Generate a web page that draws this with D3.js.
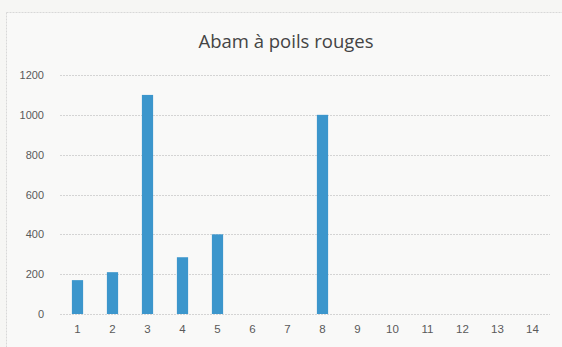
<!DOCTYPE html>
<html>
<head>
<meta charset="utf-8">
<script src="https://cdn.jsdelivr.net/npm/d3@7"></script>
<style>
  html, body { margin: 0; padding: 0; background: #f6f6f4; }
  svg { display: block; }
</style>
</head>
<body>
<svg id="chart" width="562" height="347"></svg>
<script>
const title = "Abam à poils rouges";
const categories = ["1","2","3","4","5","6","7","8","9","10","11","12","13","14"];
const values = [170, 210, 1100, 285, 400, 0, 0, 1000, 0, 0, 0, 0, 0, 0];
const yTicks = [0, 200, 400, 600, 800, 1000, 1200];

const W = 562, H = 347;
const margin = { top: 75, right: 12, bottom: 33, left: 60 };
const svg = d3.select("#chart");

// chart frame
svg.append("rect")
  .attr("x", 6.5).attr("y", 12.5)
  .attr("width", W + 10).attr("height", H)
  .attr("fill", "#f9f9f8")
  .attr("stroke", "#d8d8d8")
  .attr("stroke-dasharray", "2,1");

const x = d3.scaleBand()
  .domain(categories)
  .range([margin.left, 550])
  .paddingInner(0.68)
  .paddingOuter(0.34);

const y = d3.scaleLinear()
  .domain([0, 1200])
  .range([314, margin.top]);

// gridlines
svg.append("g")
  .selectAll("line")
  .data(yTicks)
  .join("line")
  .attr("x1", margin.left).attr("x2", 550)
  .attr("y1", d => Math.round(y(d)) + 0.5)
  .attr("y2", d => Math.round(y(d)) + 0.5)
  .attr("stroke", "#d4d4d4")
  .attr("stroke-dasharray", "2,1");

// y axis labels
const yAxis = svg.append("g")
  .attr("transform", `translate(${margin.left},0)`)
  .call(d3.axisLeft(y).tickValues(yTicks).tickFormat(d3.format("d")).tickSize(0).tickPadding(16));
yAxis.select(".domain").remove();
yAxis.selectAll("text")
  .attr("fill", "#5a5a5a")
  .style("font-family", "'Liberation Sans', Arial, sans-serif")
  .style("font-size", "11px");

// x axis labels
const xAxis = svg.append("g")
  .attr("transform", `translate(0,${y(0)})`)
  .call(d3.axisBottom(x).tickSize(0).tickPadding(11));
xAxis.select(".domain").remove();
xAxis.selectAll("text")
  .attr("fill", "#5a5a5a")
  .style("font-family", "'Liberation Sans', Arial, sans-serif")
  .style("font-size", "11.5px");

// bars
svg.append("g")
  .selectAll("rect")
  .data(values)
  .join("rect")
  .attr("x", (d, i) => x(categories[i]))
  .attr("width", x.bandwidth())
  .attr("y", d => y(d))
  .attr("height", d => y(0) - y(d))
  .attr("fill", "#3c96cc");

// title
svg.append("text")
  .attr("x", 286).attr("y", 48)
  .attr("text-anchor", "middle")
  .attr("fill", "#444")
  .style("font-family", "'Open Sans', sans-serif")
  .style("font-size", "18.5px")
  .text(title);
</script>
</body>
</html>
